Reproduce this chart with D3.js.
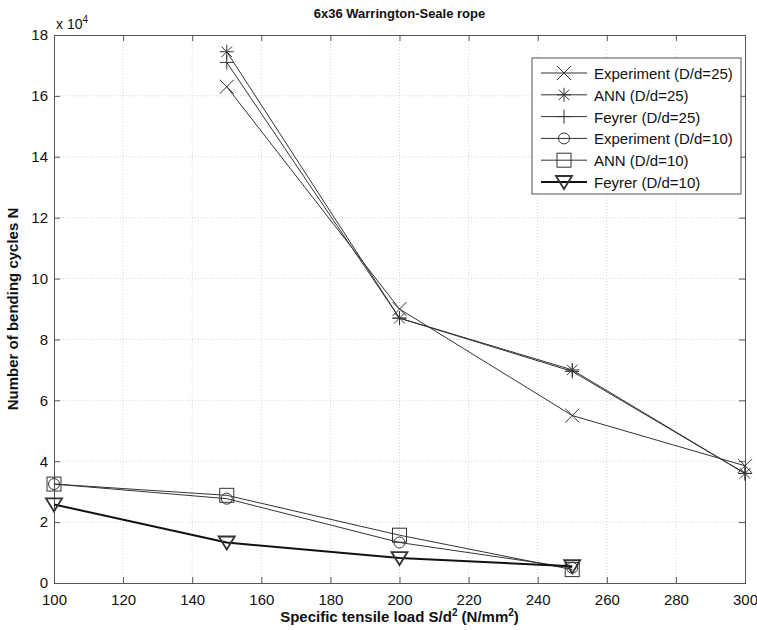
<!DOCTYPE html>
<html>
<head>
<meta charset="utf-8">
<script src="https://cdn.jsdelivr.net/npm/d3@7"></script>
<style>
  body { margin: 0; background: #fff; }
  svg { font-family: "Liberation Sans", Arial, sans-serif; }
</style>
</head>
<body>
<div id="chart"></div>
<script>
const width = 757;
const height = 630;

// tensile load values (N/mm^2)
const loads25 = [150, 200, 250, 300];
const loads10 = [100, 150, 200, 250];

// bending cycles, in units of 1e4
const expt25 = [16.3, 9.0, 5.5, 3.85];
const ann25 = [17.45, 8.7, 7.0, 3.6];
const feyrer25 = [17.1, 8.7, 6.95, 3.6];
const expt10 = [3.25, 2.77, 1.33, 0.5];
const ann10 = [3.25, 2.88, 1.57, 0.44];
const feyrer10 = [2.58, 1.33, 0.82, 0.55];

const xTicks = [100, 120, 140, 160, 180, 200, 220, 240, 260, 280, 300];
const yTicks = [0, 2, 4, 6, 8, 10, 12, 14, 16, 18];

const series = [
  {name: 'Experiment (D/d=25)', x: loads25, y: expt25, marker: 'x', w: 1},
  {name: 'ANN (D/d=25)', x: loads25, y: ann25, marker: 'star', w: 1},
  {name: 'Feyrer (D/d=25)', x: loads25, y: feyrer25, marker: 'plus', w: 1},
  {name: 'Experiment (D/d=10)', x: loads10, y: expt10, marker: 'circle', w: 1},
  {name: 'ANN (D/d=10)', x: loads10, y: ann10, marker: 'square', w: 1},
  {name: 'Feyrer (D/d=10)', x: loads10, y: feyrer10, marker: 'triangle', w: 2}
];

const margin = {top: 35, right: 12, bottom: 47, left: 54};
const iw = width - margin.left - margin.right;
const ih = height - margin.top - margin.bottom;

const svg = d3.select('#chart').append('svg')
  .attr('width', width)
  .attr('height', height);

const g = svg.append('g').attr('transform', `translate(${margin.left},${margin.top})`);

const x = d3.scaleLinear().domain([100, 300]).range([0, iw]);
const y = d3.scaleLinear().domain([0, 18]).range([ih, 0]);

// grid
g.append('g').selectAll('line').data(xTicks.slice(1, -1)).join('line')
  .attr('x1', d => x(d)).attr('x2', d => x(d))
  .attr('y1', 0).attr('y2', ih)
  .attr('stroke', '#d4d4d4').attr('stroke-dasharray', '1,2');
g.append('g').selectAll('line').data(yTicks.slice(1, -1)).join('line')
  .attr('y1', d => y(d)).attr('y2', d => y(d))
  .attr('x1', 0).attr('x2', iw)
  .attr('stroke', '#d4d4d4').attr('stroke-dasharray', '1,2');

// axes, ticks pointing inward like matlab
const axColor = '#555';
const xAxis = g.append('g').attr('transform', `translate(0,${ih})`)
  .call(d3.axisBottom(x).tickValues(xTicks).tickSize(-6).tickPadding(11));
const yAxis = g.append('g')
  .call(d3.axisLeft(y).tickValues(yTicks).tickSize(-6).tickPadding(6));
const xTop = g.append('g')
  .call(d3.axisTop(x).tickValues(xTicks).tickSize(-6).tickFormat(''));
const yRight = g.append('g').attr('transform', `translate(${iw},0)`)
  .call(d3.axisRight(y).tickValues(yTicks).tickSize(-6).tickFormat(''));
[xAxis, yAxis, xTop, yRight].forEach(a => {
  a.selectAll('path').attr('stroke', axColor);
  a.selectAll('line').attr('stroke', axColor);
  a.selectAll('text').attr('fill', '#111').style('font-size', '15px')
    .style('font-family', '"Liberation Sans", Arial, sans-serif');
});

// exponent label
const expLabel = svg.append('text')
  .attr('x', margin.left + 2).attr('y', margin.top - 6)
  .style('font-size', '14px').attr('fill', '#111');
expLabel.append('tspan').text('x 10');
expLabel.append('tspan').attr('dy', -6).style('font-size', '10px').text('4');

// markers
function drawMarker(sel, type, cx, cy, w) {
  const s = 7;
  const m = sel.append('g').attr('transform', `translate(${cx},${cy})`)
    .attr('fill', 'none').attr('stroke', '#333').attr('stroke-width', w);
  if (type === 'x') {
    m.append('path').attr('d', `M${-s},${-s}L${s},${s}M${-s},${s}L${s},${-s}`);
  } else if (type === 'plus') {
    m.append('path').attr('d', `M${-s},0L${s},0M0,${-s}L0,${s}`);
  } else if (type === 'star') {
    const a = s * 0.75;
    m.append('path').attr('d', `M${-s},0L${s},0M0,${-s}L0,${s}M${-a},${-a}L${a},${a}M${-a},${a}L${a},${-a}`);
  } else if (type === 'circle') {
    m.append('circle').attr('r', 5.5);
  } else if (type === 'square') {
    m.append('rect').attr('x', -7).attr('y', -7).attr('width', 14).attr('height', 14);
  } else if (type === 'triangle') {
    m.append('path').attr('d', `M${-s - 1},${-6}L${s + 1},${-6}L0,${7}Z`);
  }
}

const line = d3.line();
series.forEach(s => {
  const pts = s.x.map((v, i) => [x(v), y(s.y[i])]);
  g.append('path').attr('d', line(pts))
    .attr('fill', 'none').attr('stroke', s.w === 2 ? '#111' : '#333')
    .attr('stroke-width', s.w);
  pts.forEach(p => drawMarker(g, s.marker, p[0], p[1], s.w === 2 ? 1.8 : 1));
});

// legend
const legend = svg.append('g').attr('transform', 'translate(532,58)');
legend.append('rect').attr('width', 209).attr('height', 136)
  .attr('fill', '#fff').attr('stroke', '#555');
series.forEach((s, i) => {
  const item = legend.append('g').attr('transform', `translate(0,${15 + i * 21.8})`);
  item.append('line').attr('x1', 9).attr('x2', 55).attr('y1', 0).attr('y2', 0)
    .attr('stroke', s.w === 2 ? '#111' : '#333').attr('stroke-width', s.w);
  drawMarker(item, s.marker, 32, 0, s.w === 2 ? 1.8 : 1);
  item.append('text').attr('x', 62).attr('y', 6)
    .style('font-size', '15px').attr('fill', '#111').text(s.name);
});

// title and axis labels
svg.append('text').attr('x', margin.left + iw / 2).attr('y', 18)
  .attr('text-anchor', 'middle').style('font-size', '13px').style('font-weight', 'bold')
  .attr('fill', '#111').text('6x36 Warrington-Seale rope');

const xl = svg.append('text').attr('x', margin.left + iw / 2).attr('y', 622)
  .attr('text-anchor', 'middle').style('font-size', '15px').style('font-weight', 'bold')
  .attr('fill', '#111');
xl.append('tspan').text('Specific tensile load S/d');
xl.append('tspan').attr('dy', -6).style('font-size', '10px').text('2');
xl.append('tspan').attr('dy', 6).text(' (N/mm');
xl.append('tspan').attr('dy', -6).style('font-size', '10px').text('2');
xl.append('tspan').attr('dy', 6).text(')');

svg.append('text')
  .attr('transform', `translate(18,${margin.top + ih / 2}) rotate(-90)`)
  .attr('text-anchor', 'middle').style('font-size', '15px').style('font-weight', 'bold')
  .attr('fill', '#111').text('Number of bending cycles N');
</script>
</body>
</html>
